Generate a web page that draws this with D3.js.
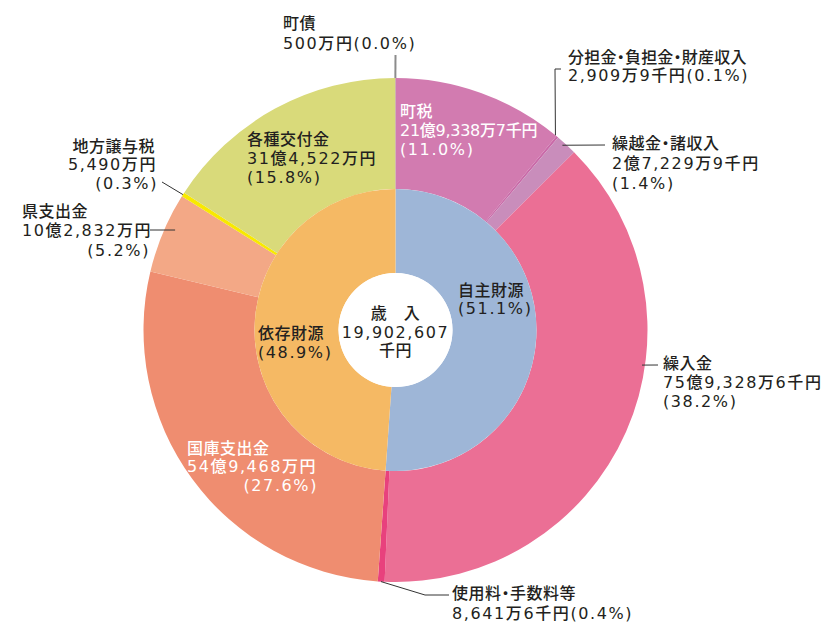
<!DOCTYPE html>
<html><head><meta charset="utf-8">
<script src="https://cdn.jsdelivr.net/npm/d3@7"></script>
<style>body{margin:0;background:#fff}svg text{font-family:'DejaVu Sans','Noto Sans CJK JP',sans-serif;font-size:16px;font-weight:500;letter-spacing:1.6px;font-feature-settings:"palt"}
svg text.nm{letter-spacing:0.5px}</style>
</head><body><svg id="c" width="824" height="623"></svg>
<script>
// ---- data (千円) ----
const outerCategories = ["町税","分担金・負担金・財産収入","繰越金・諸収入","繰入金","使用料・手数料等","国庫支出金","県支出金","地方譲与税","各種交付金","町債"];
const outerValues = [2193387, 29099, 272299, 7593286, 86416, 5494680, 1028320, 54900, 3145220, 5000];
const outerAmounts = ["21億9,338万7千円","2,909万9千円","2億7,229万9千円","75億9,328万6千円","8,641万6千円","54億9,468万円","10億2,832万円","5,490万円","31億4,522万円","500万円"];
const outerPercents = ["11.0%","0.1%","1.4%","38.2%","0.4%","27.6%","5.2%","0.3%","15.8%","0.0%"];
const innerCategories = ["自主財源","依存財源"];
const innerValues = [10174487, 9728120];
const innerPercents = ["51.1%","48.9%"];
const centerLines = ["歳　入","19,902,607","千円"];

// ---- style ----
const outerColors = ["#d27bb0","#c96aa8","#c98dbb","#eb6f95","#e8417d","#ef8d70","#f3a886","#f8e900","#d9da7a","#a89c80"];
const innerColors = ["#9eb6d7","#f5b964"];
const textDark = "#231f20";

const svg = d3.select("#c");
const cx = 395.5, cy = 330, R = 252, R1 = 141, R0 = 57;
const g = svg.append("g").attr("transform", `translate(${cx},${cy})`);

const pie = d3.pie().sort(null).value(d => d);
const outerArcs = pie(outerValues);
const innerArcs = pie(innerValues);
const arcOuter = d3.arc().innerRadius(R1).outerRadius(R);
const arcInner = d3.arc().innerRadius(R0).outerRadius(R1);

g.selectAll("path.o").data(outerArcs).join("path").attr("class","o")
  .attr("d", arcOuter).attr("fill", (d,i) => outerColors[i]);
g.selectAll("path.i").data(innerArcs).join("path").attr("class","i")
  .attr("d", arcInner).attr("fill", (d,i) => innerColors[i]);
g.append("circle").attr("r", R0).attr("fill", "#fff");

// ---- leader lines: first point polar (deg clockwise from top, radius), rest absolute ----
const leaders = [
  {a: 359.97, r: R, pts: [[395.5,55]], c:"#8c8c8c", w:2},
  {a: 39.4, r: R, pts: [[555,69],[561,69]]},
  {a: 42.1, r: 249, pts: [[605,145]]},
  {a: 98.1, r: 249, pts: [[658,365]]},
  {a: 183.3, r: R, pts: [[425,595],[449,595]]},
  {a: 294.4, r: 242, pts: [[150,230]]},
  {a: 302.5, r: R, pts: [[162,182]]}
];
leaders.forEach(l => {
  const t = l.a * Math.PI / 180;
  const p0 = [cx + l.r * Math.sin(t), cy - l.r * Math.cos(t)];
  svg.append("path")
    .attr("d", d3.line()([p0, ...l.pts]))
    .attr("fill","none").attr("stroke", l.c || "#333").attr("stroke-width", l.w || 1);
});

// ---- labels ----
function pctText(i){ return "(" + outerPercents[i] + ")"; }
// [x, baseline, anchor, kind, optional textLength]
const labelSpec = [
  {i:0, fill:"#fff", lines:[[400,117,"start","n"],[400,136,"start","a",139],[400,155,"start","p"]]},
  {i:1, fill:textDark, lines:[[568,63,"start","n",179],[568,81,"start","ap"]]},
  {i:2, fill:textDark, lines:[[612,149,"start","n"],[612,169,"start","a"],[612,189,"start","p"]]},
  {i:3, fill:textDark, lines:[[663,369,"start","n"],[663,388,"start","a"],[663,407,"start","p"]]},
  {i:4, fill:textDark, lines:[[452,599,"start","n"],[452,619,"start","ap"]]},
  {i:5, fill:"#fff", lines:[[187,454,"start","n"],[187,472,"start","a"],[318,491,"end","p"]]},
  {i:6, fill:textDark, lines:[[22,217,"start","n"],[22,236,"start","a"],[150,256,"end","p"]]},
  {i:7, fill:textDark, lines:[[155,152,"end","n"],[157,170,"end","a"],[158,189,"end","p"]]},
  {i:8, fill:textDark, lines:[[247,145,"start","n"],[247,164,"start","a"],[247,183,"start","p"]]},
  {i:9, fill:textDark, lines:[[283,29,"start","n"],[283,49,"start","ap"]]}
];
labelSpec.forEach(s => {
  s.lines.forEach(([x,y,anchor,kind,len]) => {
    let txt = kind === "n" ? outerCategories[s.i] : kind === "a" ? outerAmounts[s.i] : kind === "p" ? pctText(s.i) : outerAmounts[s.i] + pctText(s.i);
    const t = svg.append("text").attr("x", x).attr("y", y).attr("text-anchor", anchor)
      .attr("class", kind === "n" ? "nm" : null)
      .attr("fill", s.fill).text(txt);
    if (len) t.attr("textLength", len).attr("lengthAdjust", "spacing");
  });
});

// inner labels
const innerSpec = [
  {i:0, x:458, ys:[296,314]},
  {i:1, x:258, ys:[339,358]}
];
innerSpec.forEach(s => {
  svg.append("text").attr("class","nm").attr("x", s.x).attr("y", s.ys[0]).attr("fill", textDark).text(innerCategories[s.i]);
  svg.append("text").attr("x", s.x).attr("y", s.ys[1]).attr("fill", textDark).text("(" + innerPercents[s.i] + ")");
});

// center
[319, 338, 356].forEach((y, k) => {
  svg.append("text").attr("x", cx).attr("y", y).attr("text-anchor","middle")
    .attr("class", k === 1 ? null : "nm")
    .attr("fill", textDark).text(centerLines[k]);
});
</script>
</body></html>
